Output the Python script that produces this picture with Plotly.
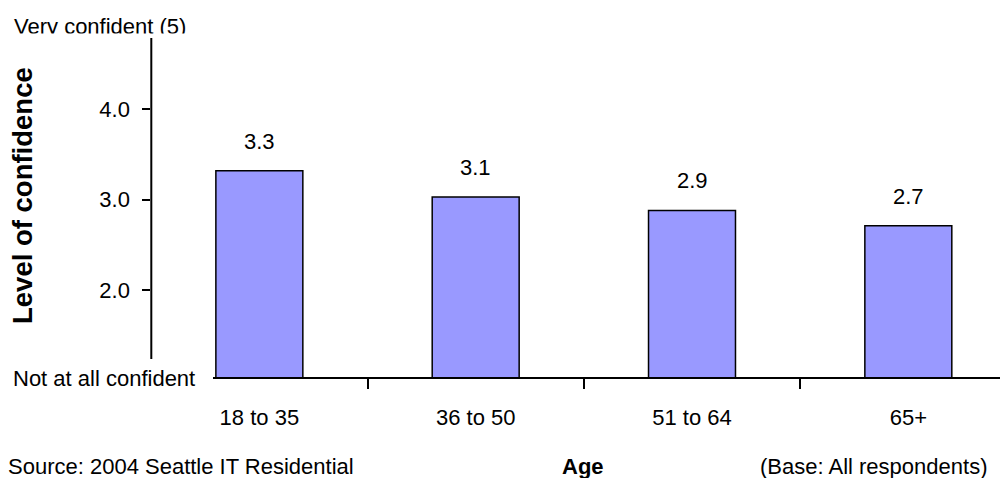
import plotly.graph_objects as go

categories = ["18 to 35", "36 to 50", "51 to 64", "65+"]
values = [3.32, 3.03, 2.88, 2.71]
value_labels = ["3.3", "3.1", "2.9", "2.7"]
y_tick_vals = [2, 3, 4]
y_tick_text = ["2.0", "3.0", "4.0"]

W, H = 1006, 478
NARROW = "Liberation Sans Narrow, Arial Narrow, Liberation Sans, Arial, sans-serif"
BOLD = "Liberation Sans, Arial, sans-serif"
FS = 22

ml, mr, mt, mb = 0, 4, 0, 100
pw = W - ml - mr
ph = H - mt - mb

fig = go.Figure()
fig.add_trace(go.Bar(
    x=categories, y=values,
    marker=dict(color="#9999FF", line=dict(color="black", width=1.5)),
    width=0.402, xaxis="x", yaxis="y", showlegend=False, hoverinfo="skip",
))

# top label in an overlay subplot (pixel coordinates), bottom clipped like the reference
fig.add_trace(go.Scatter(
    x=[14], y=[28], mode="text", text=["Very confident (5)"],
    textposition="middle right", cliponaxis=True,
    textfont=dict(family=NARROW, size=FS, color="black"),
    xaxis="x2", yaxis="y2", showlegend=False, hoverinfo="skip",
))

for c, v, t in zip(categories, values, value_labels):
    fig.add_annotation(x=c, y=v, text=t, showarrow=False, yanchor="bottom",
                       yshift=15, xref="x", yref="y",
                       font=dict(family=NARROW, size=FS, color="black"))

x_left = 151.3
fig.update_layout(
    width=W, height=H, margin=dict(l=ml, r=mr, t=mt, b=mb),
    plot_bgcolor="white", paper_bgcolor="white",
    xaxis=dict(domain=[x_left / pw, 1], range=[-0.4995, 3.433], type="category",
               showline=False, showgrid=False, zeroline=False,
               ticks="outside", tickson="boundaries", ticklen=10, tickwidth=1.5,
               tickcolor="black", ticklabelstandoff=24,
               tickfont=dict(family=NARROW, size=FS, color="black")),
    yaxis=dict(domain=[0, 1 - 18.9 / ph], range=[1.0255, 5],
               tickvals=y_tick_vals, ticktext=y_tick_text,
               showline=False, showgrid=False, zeroline=False,
               ticks="outside", ticklen=8, tickwidth=1.5, tickcolor="black",
               ticklabelstandoff=8,
               tickfont=dict(family=NARROW, size=FS, color="black")),
    xaxis2=dict(domain=[0, 1], range=[0, pw], visible=False, anchor="y2"),
    yaxis2=dict(domain=[1 - 60 / ph, 1], range=[60, 0], visible=False, anchor="x2"),
)

# white mask that cuts the bottom of the top label (as in the reference)
fig.add_shape(type="rect", xref="x2", yref="y2", x0=0, x1=240, y0=33.5, y1=45,
              fillcolor="white", line=dict(width=0), layer="above")

# axis lines
fig.add_shape(type="line", xref="paper", yref="paper",
              x0=213 / pw, x1=1000 / pw, y0=0, y1=0,
              line=dict(color="black", width=2), layer="above")
fig.add_shape(type="line", xref="paper", yref="y",
              x0=x_left / pw, x1=x_left / pw, y0=1.236, y1=4.789,
              line=dict(color="black", width=2), layer="above")

fig.add_annotation(text="Not at all confident", x=197 / pw, y=(378 - 379) / ph,
                   xref="paper", yref="paper", xanchor="right", yanchor="middle",
                   showarrow=False, font=dict(family=NARROW, size=FS, color="black"))
fig.add_annotation(text="<b>Level of confidence</b>", x=22 / pw, y=(378 - 196) / ph,
                   xref="paper", yref="paper", xanchor="center", yanchor="middle",
                   textangle=-90, showarrow=False,
                   font=dict(family=BOLD, size=27.5, color="black"))
for txt, xx, anc, fam in [("Source: 2004 Seattle IT Residential", 6, "left", NARROW),
                          ("<b>Age</b>", 583, "center", BOLD),
                          ("(Base: All respondents)", 989, "right", NARROW)]:
    fig.add_annotation(text=txt, x=xx / pw, y=(378 - 467) / ph,
                       xref="paper", yref="paper", xanchor=anc, yanchor="middle",
                       showarrow=False, font=dict(family=fam, size=FS, color="black"))

fig.write_html("out.html", config={"displayModeBar": False},
               post_script="document.body.style.margin='0';")
